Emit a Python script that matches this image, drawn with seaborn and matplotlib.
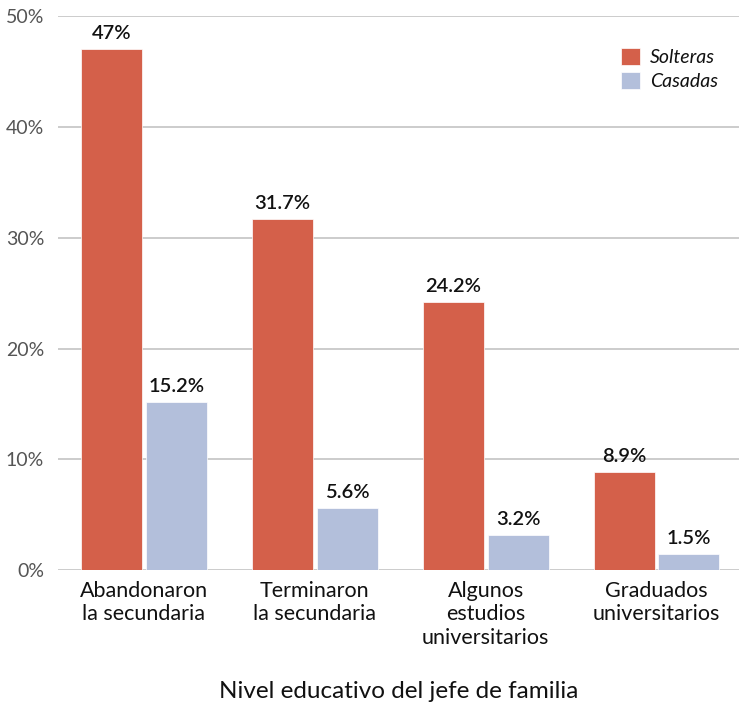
import pandas as pd
import seaborn as sns
import matplotlib.pyplot as plt

# Data
niveles = ['Abandonaron\nla secundaria', 'Terminaron\nla secundaria',
           'Algunos\nestudios\nuniversitarios', 'Graduados\nuniversitarios']
solteras = [47.0, 31.7, 24.2, 8.9]
casadas = [15.2, 5.6, 3.2, 1.5]
grupos = ['Solteras', 'Casadas']
colores = ['#D4604A', '#B3BFDB']

df = pd.DataFrame({
    'Nivel': niveles * 2,
    'Grupo': [grupos[0]] * 4 + [grupos[1]] * 4,
    'Valor': solteras + casadas,
})

sns.set_style('white')
plt.rcParams['font.family'] = ['Lato', 'DejaVu Sans']

fig = plt.figure(figsize=(7.39, 7.03), dpi=100)
ax = fig.add_axes([0.0785, 0.189, 0.9215, 0.788])

sns.barplot(data=df, x='Nivel', y='Valor', hue='Grupo', palette=colores,
            width=0.76, gap=0.06, saturation=1, linewidth=0.5, ax=ax, zorder=3)

for cont in ax.containers:
    ax.bar_label(cont, labels=[f'{b.get_height():g}%' for b in cont],
                 padding=5, fontsize=14.5, fontweight='semibold', color='#111111')

ax.set_ylim(0, 50)
ax.set_xlim(-0.503, 3.483)
ax.set_yticks(range(0, 51, 10))
ax.set_yticklabels([f'{t}%' for t in range(0, 51, 10)])
ax.yaxis.grid(True, color='#c8c8c8', linewidth=1.3, zorder=0)
ax.set_axisbelow(True)
for s in ax.spines.values():
    s.set_visible(False)
ax.tick_params(axis='y', length=0, pad=10, labelsize=14, labelcolor='#555555')
ax.tick_params(axis='x', length=0, pad=8, labelsize=15.5, labelcolor='#111111')
for t in ax.get_xticklabels():
    t.set_linespacing(1.2)
    t.set_verticalalignment('top')

ax.set_ylabel('')
ax.set_xlabel('Nivel educativo del jefe de familia', fontsize=17.5, color='#111111', labelpad=24)

leg = ax.legend(loc='upper right', bbox_to_anchor=(0.995, 0.975), frameon=False,
                fontsize=14, handlelength=1.0, handleheight=1.0, handletextpad=0.5,
                labelspacing=0.3)
for t in leg.get_texts():
    t.set_fontstyle('italic')
    t.set_color('#111111')

fig.savefig('out.png', dpi=100)
